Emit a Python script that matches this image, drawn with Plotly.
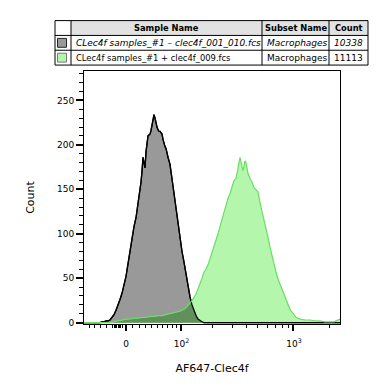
import numpy as np
import plotly.graph_objects as go

# ---------------- data ----------------
# histogram bins on the display (channel) scale of the biexponential axis
gray_channel = [0, 16, 18, 20, 22, 24, 26, 28, 30, 32, 34, 36, 38, 40, 42, 44, 46, 48, 50, 52,
                54, 56, 57, 58, 59, 60, 61, 62, 63, 64, 65, 66, 67, 68, 69, 70, 71, 72, 73, 74,
                75, 76, 77, 78, 79, 80, 81, 82, 83, 84, 86, 88, 90, 92, 94, 96, 98, 100, 102, 104,
                106, 108, 110, 112, 114, 116, 118, 120, 256]
gray_count = [0, 0, 1, 1, 2, 2, 3, 6, 9, 14, 19, 26, 33, 42, 52, 66, 80, 96, 108, 118,
              132, 146, 158, 170, 186, 180, 174, 192, 204, 210, 211, 212, 216, 224, 228, 234, 230, 222, 220, 217,
              215, 215, 214, 212, 206, 200, 198, 196, 190, 186, 178, 162, 143, 125, 108, 94, 80, 68, 55, 40,
              29, 20, 13, 8, 4, 2, 1, 0, 0]

green_channel = [0, 28, 30, 34, 38, 42, 46, 50, 54, 58, 62, 66, 70, 74, 78, 82, 86, 90, 94, 96,
                 98, 100, 102, 104, 106, 108, 110, 112, 114, 116, 118, 120, 122, 124, 126, 128, 130, 132, 134, 136,
                 138, 140, 142, 144, 146, 148, 150, 152, 154, 155, 156, 157, 158, 159, 160, 161, 162, 163, 164, 166,
                 168, 170, 172, 174, 176, 178, 180, 182, 184, 186, 188, 190, 192, 194, 196, 198, 200, 202, 204, 206,
                 208, 210, 212, 214, 216, 221, 226, 231, 236, 241, 246, 250, 252, 254, 256]
green_count = [0, 0, 1, 2, 3, 4, 4, 5, 5, 6, 6, 7, 7, 8, 8, 9, 10, 11, 12, 13,
               14, 15, 17, 19, 22, 25, 28, 32, 38, 43, 50, 57, 60, 65, 72, 78, 84, 91, 100, 108,
               116, 124, 133, 140, 145, 153, 160, 162, 172, 180, 186, 180, 176, 171, 176, 182, 180, 174, 168, 162,
               158, 152, 150, 147, 135, 126, 117, 107, 96, 85, 75, 66, 57, 49, 43, 37, 31, 26, 20, 15,
               12, 9, 6, 5, 4, 3, 3, 2, 2, 1, 1, 1, 2, 3, 4]

major_tick_values = [0, 100, 1000]
major_tick_labels = ["0", "&#8202;10<sup>2</sup>", "&#8202;10<sup>3</sup>"]
minor_tick_values = ([-60, -50, -40, -30] + list(range(-20, -4, 2)) +
                     [10, 20, 30, 40, 50, 60, 70, 80, 90] +
                     [200, 300, 400, 500, 600, 700, 800, 900, 2000])

table_header = ["Sample Name", "Subset Name", "Count"]
sample_names = ["CLec4f samples_#1 \u2013 clec4f_001_010.fcs", "CLec4f samples_#1 + clec4f_009.fcs"]
subset_names = ["Macrophages", "Macrophages"]
counts = ["10338", "11113"]

x_title = "AF647-Clec4f"
y_title = "Count"

# ---------------- styles ----------------
GRAY_FILL = "rgb(153,153,153)"
GREEN_FILL = "rgb(180,246,172)"
GREEN_LINE = "rgb(105,222,100)"
OVERLAP = "rgb(98,143,92)"
FONT = "DejaVu Sans"


def to_display(v):
    # biexponential-like display transform (data value -> channel)
    return 42 + 51.6 * np.arcsinh(np.asarray(v, dtype=float) / 78.0)


grid = np.linspace(0, 256, 1025)
gray_i = np.interp(grid, gray_channel, gray_count)
green_i = np.interp(grid, green_channel, green_count)
overlap_i = np.minimum(gray_i, green_i)

fig = go.Figure()
fig.add_trace(go.Scatter(x=gray_channel, y=gray_count, mode="lines", fill="tozeroy",
                         fillcolor=GRAY_FILL, line=dict(color="black", width=1.3)))
fig.add_trace(go.Scatter(x=green_channel, y=green_count, mode="lines", fill="tozeroy",
                         fillcolor=GREEN_FILL, line=dict(width=0)))
fig.add_trace(go.Scatter(x=grid, y=overlap_i, mode="lines", fill="tozeroy",
                         fillcolor=OVERLAP, line=dict(width=0)))
fig.add_trace(go.Scatter(x=gray_channel, y=gray_count, mode="lines",
                         line=dict(color="black", width=1.3)))
fig.add_trace(go.Scatter(x=green_channel, y=green_count, mode="lines",
                         line=dict(color=GREEN_LINE, width=1.2)))

# page offset of the plot div (default body margin) and plot box in page pixels
OFF = 8
L, R, T, B = 84, 340, 71, 327
FIG_W, FIG_H = 375, 376


def px(x):
    return (x - L) / (R - L)


def py(y):
    return (B - y) / (B - T)


shapes = []
annotations = []
# table
tx0, tx1, ty0, ty1 = 55, 368, 20, 65
col = [55, 71, 262, 329, 368]
row = [20, 35, 50, 65]
shapes.append(dict(type="rect", xref="paper", yref="paper", x0=px(71), x1=px(368), y0=py(35), y1=py(20),
                   fillcolor="rgb(226,226,226)", line=dict(width=0), layer="above"))
shapes.append(dict(type="rect", xref="paper", yref="paper", x0=px(tx0), x1=px(tx1), y0=py(ty1), y1=py(ty0),
                   fillcolor="rgba(0,0,0,0)", line=dict(color="black", width=1), layer="above"))
for yy in row[1:3]:
    shapes.append(dict(type="line", xref="paper", yref="paper", x0=px(tx0), x1=px(tx1), y0=py(yy), y1=py(yy),
                       line=dict(color="black", width=1), layer="above"))
for xx in col[1:4]:
    shapes.append(dict(type="line", xref="paper", yref="paper", x0=px(xx), x1=px(xx), y0=py(ty0), y1=py(ty1),
                       line=dict(color="black", width=1), layer="above"))
# swatches
for i, (fc, lc) in enumerate([(GRAY_FILL, "rgb(40,40,40)"), (GREEN_FILL, "rgb(120,120,120)")]):
    yc = (row[i + 1] + row[i + 2]) / 2
    shapes.append(dict(type="rect", xref="paper", yref="paper", x0=px(57.5), x1=px(66.5),
                       y0=py(yc + 4.5), y1=py(yc - 4.5), fillcolor=fc, line=dict(color=lc, width=1), layer="above"))
# header text
for i, h in enumerate(table_header):
    xc = (col[i + 1] + col[i + 2]) / 2
    annotations.append(dict(x=px(xc), y=py(27.5), xref="paper", yref="paper", text="<b>" + h + "</b>",
                            showarrow=False, xanchor="center", yanchor="middle",
                            font=dict(family=FONT, size=8.3, color="black")))
for i in range(2):
    yc = (row[i + 1] + row[i + 2]) / 2
    vals = [sample_names[i], subset_names[i], counts[i]]
    for j, v in enumerate(vals):
        txt = "<i>" + v + "</i>" if i == 0 else v
        size = 8.4 if (i == 1 and j == 0) else 9
        annotations.append(dict(x=px(col[j + 1] + 3), y=py(yc), xref="paper", yref="paper", text=txt,
                                showarrow=False, xanchor="left", yanchor="middle",
                                font=dict(family=FONT, size=size, color="black")))

fig.update_layout(
    width=FIG_W, height=FIG_H,
    margin=dict(l=L - OFF, r=FIG_W - (R - OFF), t=T - OFF, b=FIG_H - (B - OFF)),
    paper_bgcolor="white", plot_bgcolor="white",
    showlegend=False,
    shapes=shapes, annotations=annotations,
    font=dict(family=FONT, size=9, color="black"),
)
fig.update_xaxes(
    range=[0, 256], showgrid=False, zeroline=False,
    showline=True, linecolor="black", linewidth=1, mirror=True,
    tickmode="array", tickvals=to_display(major_tick_values).tolist(), ticktext=major_tick_labels,
    ticks="outside", ticklen=6, tickwidth=2, tickcolor="black",
    minor=dict(tickmode="array", tickvals=to_display(minor_tick_values).tolist(),
               ticks="outside", ticklen=3, tickwidth=1, tickcolor="black"),
    tickfont=dict(family=FONT, size=9),
    ticklabelstandoff=5,
    title=dict(text=x_title, font=dict(family=FONT, size=11), standoff=16),
)
fig.update_yaxes(
    range=[-1.5, 283], showgrid=False, zeroline=False,
    showline=True, linecolor="black", linewidth=1, mirror=True,
    tickmode="linear", tick0=0, dtick=50,
    ticks="outside", ticklen=7, tickwidth=2, tickcolor="black",
    minor=dict(tickmode="linear", tick0=0, dtick=10, ticks="outside", ticklen=4, tickwidth=1, tickcolor="black"),
    tickfont=dict(family=FONT, size=9),
    title=dict(text=y_title, font=dict(family=FONT, size=11), standoff=20),
)

fig.write_html("out.html")
